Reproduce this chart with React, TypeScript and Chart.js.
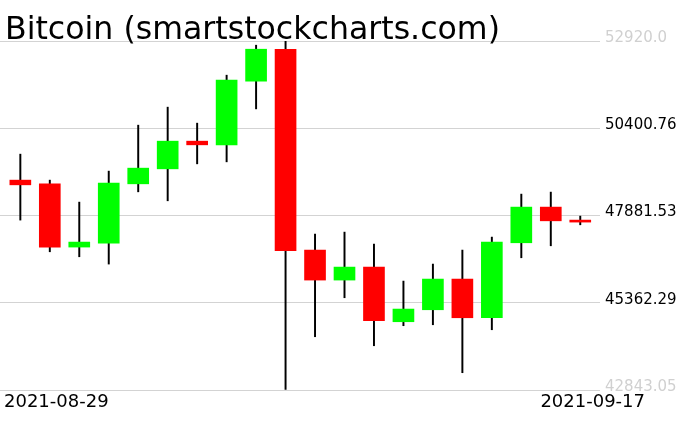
import React, { useEffect, useRef } from "react";
import { Chart, registerables } from "chart.js";

Chart.register(...registerables);

const titleText = "Bitcoin (smartstockcharts.com)";

const dates = [
  "2021-08-29", "2021-08-30", "2021-08-31", "2021-09-01", "2021-09-02",
  "2021-09-03", "2021-09-04", "2021-09-05", "2021-09-06", "2021-09-07",
  "2021-09-08", "2021-09-09", "2021-09-10", "2021-09-11", "2021-09-12",
  "2021-09-13", "2021-09-14", "2021-09-15", "2021-09-16", "2021-09-17",
];

const opens = [48903, 48796, 46970, 47085, 48796, 49229, 50028, 49922, 51760, 52683, 46883, 46017, 46392, 44814, 45160, 46046, 44929, 47094, 48124, 47749];
const highs = [49653, 48903, 48268, 49163, 50490, 51010, 50548, 51933, 52799, 52914, 47345, 47402, 47056, 45988, 46479, 46883, 47258, 48499, 48557, 47864];
const lows = [47749, 46834, 46690, 46479, 48565, 48306, 49373, 49431, 50960, 42863, 44381, 45507, 44121, 44699, 44727, 43342, 44583, 46661, 47007, 47613];
const closes = [48767, 46970, 47114, 48816, 49249, 50028, 49922, 51789, 52683, 46863, 46017, 46392, 44843, 45180, 46046, 44929, 47114, 48124, 47728, 47691];

const yTickValues = [42843.05, 45362.29, 47881.53, 50400.76, 52920.0];
const yTickLabels = ["42843.05", "45362.29", "47881.53", "50400.76", "52920.0"];

export default function App() {
  const ref = useRef<HTMLCanvasElement | null>(null);

  useEffect(() => {
    document.body.style.margin = "0";
    const canvas = ref.current;
    if (!canvas) return;

    const bodies = dates.map((_, i) => ({ x: i, y: [opens[i], closes[i]] }));
    const wicks = dates.map((_, i) => ({ x: i, y: [lows[i], highs[i]] }));
    const bodyColors = dates.map((_, i) => (closes[i] >= opens[i] ? "#00ff00" : "#ff0000"));

    const textPlugin = {
      id: "texts",
      afterDraw(chart: any) {
        const ctx = chart.ctx;
        ctx.save();
        ctx.fillStyle = "#000";
        ctx.textAlign = "left";
        ctx.textBaseline = "alphabetic";
        ctx.font = '31.6px "DejaVu Sans"';
        ctx.fillText(titleText, 5, 39);
        ctx.font = '18px "DejaVu Sans"';
        ctx.fillText(dates[0], 4, 407);
        ctx.textAlign = "right";
        ctx.fillText(dates[dates.length - 1], 645, 407);
        ctx.restore();
      },
    };

    const chart = new Chart(canvas, {
      type: "bar",
      data: {
        datasets: [
          {
            data: bodies as any,
            backgroundColor: bodyColors,
            borderWidth: 0,
            barThickness: 21,
            grouped: false,
          } as any,
          {
            data: wicks as any,
            backgroundColor: "#000000",
            borderWidth: 0,
            barThickness: 1.3,
            grouped: false,
          } as any,
        ],
      },
      options: {
        animation: false,
        responsive: true,
        maintainAspectRatio: false,
        layout: { padding: { top: 41, bottom: 41, left: 0, right: 0 } },
        plugins: {
          legend: { display: false },
          tooltip: { enabled: false },
          title: { display: false },
        },
        scales: {
          x: {
            type: "linear",
            display: false,
            offset: false,
            min: -0.69,
            max: 19.67,
          },
          y: {
            position: "right",
            min: yTickValues[0],
            max: yTickValues[yTickValues.length - 1],
            afterBuildTicks: (scale: any) => {
              scale.ticks = yTickValues.map((v) => ({ value: v }));
            },
            afterFit: (scale: any) => {
              scale.width = 76;
            },
            border: { display: false },
            grid: { color: "#d3d3d3", lineWidth: 1, drawTicks: false },
            ticks: {
              padding: 5,
              labelOffset: -3,
              font: { family: "DejaVu Sans", size: 15 },
              color: (c: any) =>
                c.index === 0 || c.index === yTickValues.length - 1 ? "#d0d0d0" : "#000000",
              callback: (_v: any, i: number) => yTickLabels[i],
            },
          },
        },
      },
      plugins: [textPlugin],
    });

    return () => chart.destroy();
  }, []);

  return (
    <div style={{ position: "relative", width: 676, height: 431 }}>
      <canvas ref={ref} />
    </div>
  );
}
